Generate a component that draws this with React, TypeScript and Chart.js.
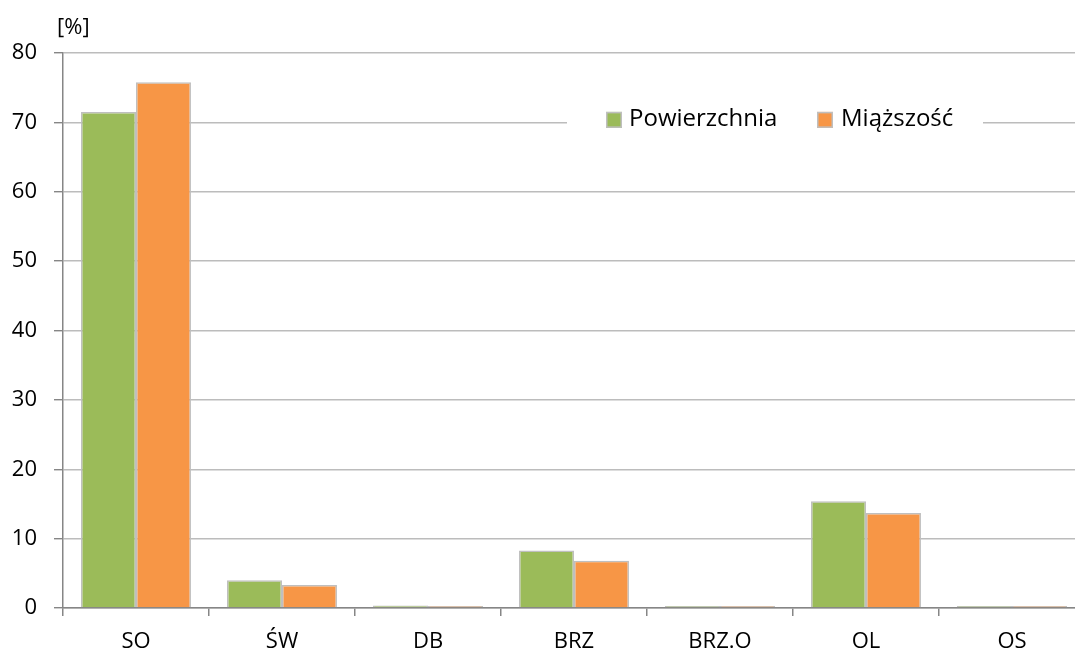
import React, { useEffect, useRef } from "react";
import { Chart, registerables } from "chart.js";

Chart.register(...registerables);

const categories = ["SO", "ŚW", "DB", "BRZ", "BRZ.O", "OL", "OS"];
const powierzchnia = [71.5, 4.0, 0.35, 8.3, 0.1, 15.4, 0.1];
const miazszosc = [75.8, 3.3, 0.15, 6.8, 0.1, 13.7, 0.1];
const seriesLabels = ["Powierzchnia", "Miąższość"];
const seriesColors = ["#9BBB59", "#F79646"];
const yTicks = [0, 10, 20, 30, 40, 50, 60, 70, 80];
const unitLabel = "[%]";

const FONT = "'Open Sans', 'DejaVu Sans', sans-serif";

const overlayPlugin = {
  id: "overlay",
  afterDraw(chart: any) {
    const ctx = chart.ctx;
    const y = chart.scales.y;
    ctx.save();
    // unit label
    ctx.fillStyle = "#000";
    ctx.font = `22px ${FONT}`;
    ctx.textAlign = "left";
    ctx.textBaseline = "middle";
    ctx.fillText(unitLabel, 57, 28);
    // legend inside plot
    const ly = y.getPixelForValue(70);
    ctx.fillStyle = "#fff";
    ctx.fillRect(567, ly - 14, 416, 28);
    const items = [
      { x: 606, tx: 629 },
      { x: 817, tx: 841 },
    ];
    ctx.font = `24px ${FONT}`;
    items.forEach((it, i) => {
      ctx.fillStyle = seriesColors[i];
      ctx.fillRect(it.x, ly - 10.5, 16, 16);
      ctx.strokeStyle = "#bfbfbf";
      ctx.lineWidth = 1.5;
      ctx.strokeRect(it.x + 0.75, ly - 9.75, 14.5, 14.5);
      ctx.fillStyle = "#000";
      ctx.textAlign = "left";
      ctx.textBaseline = "middle";
      ctx.fillText(seriesLabels[i], it.tx, ly - 3);
    });
    ctx.restore();
  },
};

export default function App() {
  const ref = useRef<HTMLCanvasElement | null>(null);
  useEffect(() => {
    if (!ref.current) return;
    Chart.defaults.font.family = FONT;
    const chart = new Chart(ref.current, {
      type: "bar",
      data: {
        labels: categories,
        datasets: [
          {
            label: seriesLabels[0],
            data: powierzchnia,
            backgroundColor: seriesColors[0],
            borderColor: "#bfbfbf",
            borderWidth: 1.5,
            categoryPercentage: 0.753,
            barPercentage: 1,
            minBarLength: 2,
          },
          {
            label: seriesLabels[1],
            data: miazszosc,
            backgroundColor: seriesColors[1],
            borderColor: "#bfbfbf",
            borderWidth: 1.5,
            categoryPercentage: 0.753,
            barPercentage: 1,
            minBarLength: 2,
          },
        ],
      },
      options: {
        animation: false,
        responsive: false,
        maintainAspectRatio: false,
        layout: { padding: { top: 53, right: 15, left: 0, bottom: 0 } },
        plugins: {
          legend: { display: false },
          tooltip: { enabled: false },
        },
        scales: {
          x: {
            offset: true,
            grid: {
              display: true,
              offset: true,
              drawOnChartArea: false,
              drawTicks: true,
              tickLength: 8,
              tickColor: "#868686",
              lineWidth: 1.5,
            },
            border: { color: "#868686", width: 1.5 },
            ticks: {
              color: "#000",
              font: { size: 22, family: FONT },
              padding: 13,
              maxRotation: 0,
              autoSkip: false,
            },
            afterFit(scale: any) {
              scale.height = 47;
            },
          },
          y: {
            min: 0,
            max: 80,
            afterBuildTicks(scale: any) {
              scale.ticks = yTicks.map((v) => ({ value: v }));
            },
            grid: {
              color: "#bcbcbc",
              lineWidth: 1.4,
              tickLength: 9,
              tickColor: "#868686",
            },
            border: { color: "#868686", width: 1.5 },
            ticks: {
              color: "#000",
              font: { size: 22, family: FONT },
              padding: 17,
            },
            afterFit(scale: any) {
              scale.width = 63;
            },
          },
        },
      },
      plugins: [overlayPlugin],
    });
    return () => chart.destroy();
  }, []);
  return (
    <div
      style={{
        position: "fixed",
        left: 0,
        top: 0,
        width: 1075,
        height: 655,
        overflow: "hidden",
        background: "#fff",
      }}
    >
      <canvas ref={ref} width={1100} height={655} style={{ width: 1100, height: 655, display: "block" }} />
    </div>
  );
}
